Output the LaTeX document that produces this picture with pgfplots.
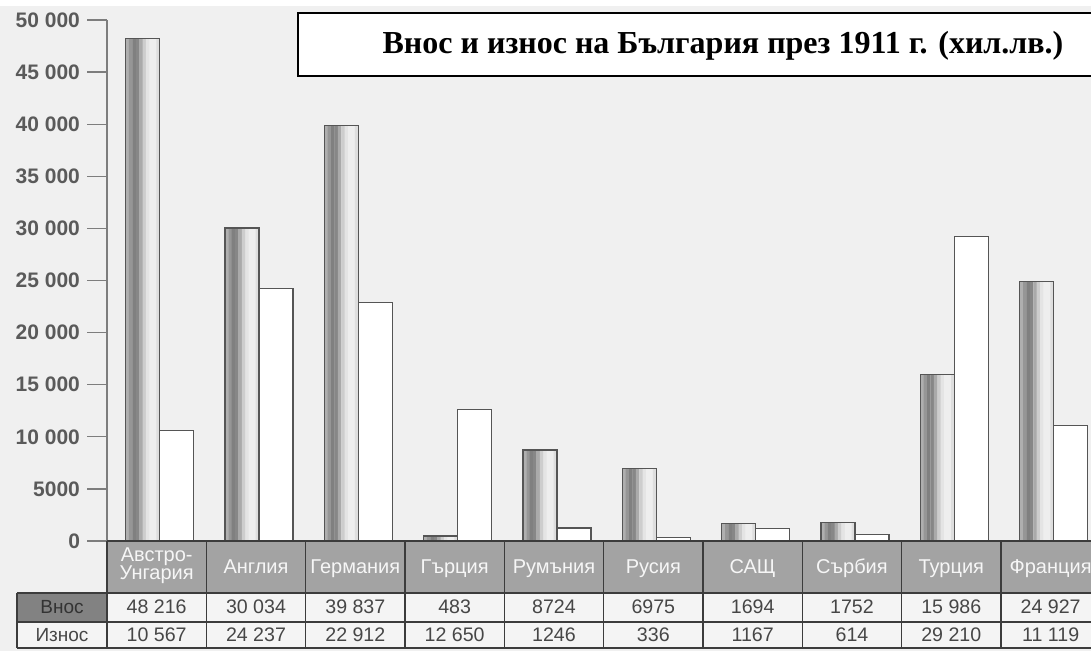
\documentclass[border=0pt]{standalone}
\usepackage{pgfplots}
\pgfplotsset{compat=1.18}
\usepackage{pgfplotstable}
\usepackage{fontspec}
\setmainfont{Liberation Sans}
\newfontfamily\titlefont{Liberation Serif}

\definecolor{bg}{RGB}{240,240,240}
\definecolor{axgray}{RGB}{125,125,125}
\definecolor{lblgray}{RGB}{90,90,90}
\definecolor{hdrfill}{RGB}{163,163,163}
\definecolor{hdrtext}{RGB}{246,246,246}
\definecolor{vnosfill}{RGB}{130,130,130}
\definecolor{cellfill}{RGB}{244,244,244}
\definecolor{rule}{RGB}{60,60,60}
\definecolor{txt}{RGB}{70,70,70}
\definecolor{barline}{RGB}{85,85,85}
\definecolor{s0}{RGB}{175,175,175}
\definecolor{s1}{RGB}{150,150,150}
\definecolor{s2}{RGB}{128,128,128}
\definecolor{s3}{RGB}{135,135,135}
\definecolor{s4}{RGB}{170,170,170}
\definecolor{s5}{RGB}{205,205,205}
\definecolor{s6}{RGB}{228,228,228}
\definecolor{s7}{RGB}{238,238,238}
\definecolor{s8}{RGB}{238,238,238}
\definecolor{s9}{RGB}{222,222,222}

\pgfplotstableread{
x vnos iznos
0 48216 10567
1 30034 24237
2 39837 22912
3 483 12650
4 8724 1246
5 6975 336
6 1694 1167
7 1752 614
8 15986 29210
9 24927 11119
}\data

\begin{document}
\begin{tikzpicture}
\begin{scope}[x=0.5pt,y=-0.5pt,shift={(-107,-541)}]
  \fill[bg] (0,6) rectangle (1091,651);
\end{scope}

\begin{axis}[
  at={(0,0)}, anchor=south west,
  scale only axis, width=496.7pt, height=260.5pt,
  xmin=-0.5, xmax=9.5, ymin=0, ymax=50000,
  axis x line=none, axis y line*=left,
  axis line style={axgray, line width=0.8pt},
  ytick={0,5000,...,50000},
  scaled y ticks=false,
  yticklabels={0,5000,10~000,15~000,20~000,25~000,30~000,35~000,40~000,45~000,50~000},
  tick align=outside, major tick length=10pt,
  ytick style={axgray, line width=0.6pt},
  yticklabel style={font=\bfseries\fontsize{10.5}{12}\selectfont, text=lblgray},
  ybar, bar width=1.8pt,
  clip=false,
  every axis plot/.append style={forget plot},
]
% cylinder-like shading of the import bars, drawn as narrow strips
\addplot[bar shift=-14.65pt, draw=none, fill=s0] table[x=x,y=vnos]{\data};
\addplot[bar shift=-12.95pt, draw=none, fill=s1] table[x=x,y=vnos]{\data};
\addplot[bar shift=-11.25pt, draw=none, fill=s2] table[x=x,y=vnos]{\data};
\addplot[bar shift=-9.55pt, draw=none, fill=s3] table[x=x,y=vnos]{\data};
\addplot[bar shift=-7.85pt, draw=none, fill=s4] table[x=x,y=vnos]{\data};
\addplot[bar shift=-6.15pt, draw=none, fill=s5] table[x=x,y=vnos]{\data};
\addplot[bar shift=-4.45pt, draw=none, fill=s6] table[x=x,y=vnos]{\data};
\addplot[bar shift=-2.75pt, draw=none, fill=s7] table[x=x,y=vnos]{\data};
\addplot[bar shift=-1.05pt, draw=none, fill=s8] table[x=x,y=vnos]{\data};
\addplot[bar shift=0.65pt, draw=none, fill=s9, bar width=1.7pt] table[x=x,y=vnos]{\data};
% outlines
\addplot[bar shift=-7pt, bar width=17pt, draw=barline, line width=0.6pt, fill=none] table[x=x,y=vnos]{\data};
\addplot[bar shift=10pt, bar width=17pt, draw=barline, line width=0.6pt, fill=white] table[x=x,y=iznos]{\data};
\end{axis}

\begin{scope}[x=0.5pt,y=-0.5pt,shift={(-107,-541)}]
  % table fills
  \fill[hdrfill] (107,541) rectangle (1100,593);
  \fill[cellfill] (17,593) rectangle (1100,648);
  \fill[vnosfill] (17,593) rectangle (107,622);
  % rules
  \draw[rule, line width=0.6pt] (107,541) -- (1100,541);
  \draw[rule, line width=0.6pt] (17,593) -- (1100,593);
  \draw[rule, line width=0.6pt] (17,622) -- (1100,622);
  \draw[rule, line width=0.6pt] (17,648) -- (1100,648);
  \draw[rule, line width=0.6pt] (17,593) -- (17,648);
  \foreach \k in {0,...,9} {
    \draw[rule, line width=0.6pt] ({107+99.33*\k},541) -- ({107+99.33*\k},648);
  }
  % header labels
  \foreach \i/\n in {1/Англия,2/Германия,3/Гърция,4/Румъния,5/Русия,6/САЩ,7/Сърбия,8/Турция,9/Франция} {
    \node[anchor=base, text=hdrtext, font=\fontsize{10}{11}\selectfont] at ({107+99.33*(\i+0.5)},573) {\n};
  }
  \node[text=hdrtext, font=\fontsize{10}{9}\selectfont, align=center] at ({107+99.33*0.5},566) {Австро-\\Унгария};
  % row labels
  \node[anchor=base, text=black!80, font=\fontsize{9.5}{11}\selectfont] at (62,613) {Внос};
  \node[anchor=base, text=txt, font=\fontsize{9.5}{11}\selectfont] at (62,641) {Износ};
  % values
  \foreach \i/\v in {0/48 216,1/30 034,2/39 837,3/483,4/8724,5/6975,6/1694,7/1752,8/15 986,9/24 927} {
    \node[anchor=base, text=txt, font=\fontsize{9.8}{11}\selectfont] at ({107+99.33*(\i+0.5)},613) {\v};
  }
  \foreach \i/\v in {0/10 567,1/24 237,2/22 912,3/12 650,4/1246,5/336,6/1167,7/614,8/29 210,9/11 119} {
    \node[anchor=base, text=txt, font=\fontsize{9.8}{11}\selectfont] at ({107+99.33*(\i+0.5)},641) {\v};
  }
  % title box
  \filldraw[fill=white, draw=black, line width=1pt] (298,13) rectangle (1096,76);
  \node[anchor=base, font=\titlefont\bfseries\fontsize{16}{19}\selectfont] at (723,54) {Внос и износ на България през 1911 г. (хил.лв.)};
  \pgfresetboundingbox
  \path[use as bounding box] (0,0) rectangle (1091,653);
\end{scope}
\end{tikzpicture}
\end{document}
